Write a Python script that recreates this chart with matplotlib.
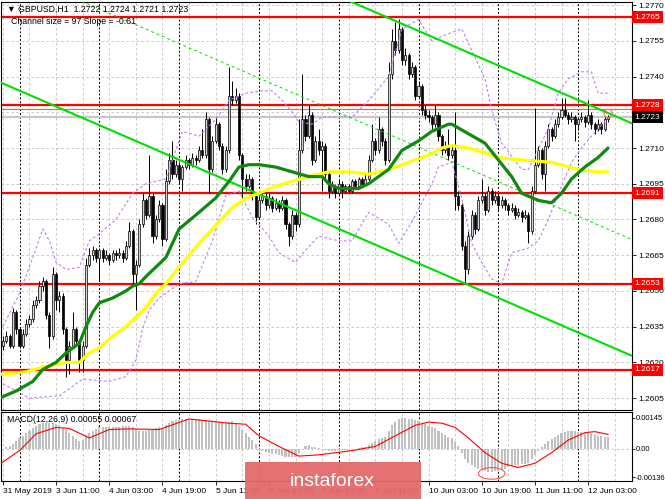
import matplotlib
matplotlib.use("Agg")
import matplotlib.pyplot as plt
import matplotlib.transforms as mtransforms
from matplotlib.patches import Rectangle, Ellipse
import numpy as np

plt.rcParams["font.family"] = ["Liberation Sans", "DejaVu Sans"]

# ---------------------------------------------------------------------------
# Data (prices in pips above 1.2600, one candle per H1 bar,
# bar 0 = 31 May 19:00, bar 182 = 12 Jun 09:00)
# ---------------------------------------------------------------------------
BASE = 1.2600
PIP = 0.0001

open_pips = [
    27, 29, 31, 27, 41, 34, 27, 32, 36, 38, 44, 46, 52, 54, 40, 31, 57, 46, 48, 34,
    21, 27, 34, 29, 21, 27, 61, 65, 67, 64, 67, 64, 65, 63, 66, 65, 66, 64, 69, 75,
    57, 61, 78, 88, 82, 90, 73, 80, 86, 72, 96, 105, 99, 103, 97, 102, 105, 103, 106, 105,
    109, 107, 122, 101, 113, 120, 111, 101, 109, 132, 130, 132, 107, 97, 94, 97, 90, 81, 88, 90,
    86, 89, 85, 87, 85, 88, 78, 73, 82, 78, 109, 122, 115, 124, 105, 113, 109, 111, 99, 92,
    94, 91, 95, 92, 94, 92, 96, 94, 97, 95, 97, 105, 113, 109, 118, 113, 105, 141, 155, 151,
    160, 147, 149, 141, 144, 132, 136, 126, 124, 123, 120, 124, 115, 109, 111, 107, 109, 90, 86, 69,
    59, 73, 82, 76, 88, 90, 84, 92, 88, 90, 86, 88, 86, 84, 85, 82, 83, 81, 82, 75,
    92, 103, 109, 99, 111, 118, 115, 120, 123, 126, 124, 122, 123, 120, 122, 123, 121, 124, 120, 118,
    120, 118, 122,
]
high_pips = [
    31, 33, 32, 43, 42, 35, 34, 38, 40, 46, 48, 54, 56, 55, 41, 60, 58, 50, 49, 35,
    29, 41, 35, 30, 29, 64, 68, 69, 68, 68, 68, 67, 66, 67, 67, 68, 67, 71, 79, 76,
    63, 80, 91, 89, 107, 91, 82, 88, 87, 101, 108, 113, 105, 104, 103, 107, 106, 108, 107, 111,
    118, 125, 123, 115, 123, 121, 112, 111, 144, 138, 135, 133, 108, 99, 99, 98, 91, 90, 92, 91,
    91, 90, 89, 88, 90, 89, 79, 84, 83, 122, 141, 124, 128, 125, 115, 118, 113, 112, 100, 96,
    95, 97, 96, 95, 95, 97, 97, 98, 98, 99, 107, 120, 114, 123, 119, 114, 146, 160, 163, 164,
    161, 152, 150, 146, 145, 138, 137, 128, 126, 124, 128, 125, 116, 113, 118, 111, 125, 92, 87, 71,
    75, 84, 83, 90, 97, 91, 94, 93, 92, 91, 90, 89, 87, 87, 86, 85, 84, 84, 83, 94,
    127, 111, 110, 113, 120, 119, 122, 125, 131, 131, 125, 125, 124, 123, 125, 124, 130, 125, 121, 122,
    121, 123, 124,
]
low_pips = [
    25, 28, 26, 26, 32, 26, 26, 31, 35, 37, 43, 45, 50, 38, 26, 30, 42, 41, 32, 14,
    15, 26, 27, 16, 16, 26, 60, 63, 62, 54, 62, 63, 61, 62, 63, 64, 62, 63, 68, 52,
    42, 60, 77, 80, 81, 70, 72, 79, 69, 71, 95, 97, 98, 95, 92, 101, 101, 102, 103, 104,
    106, 106, 91, 100, 112, 109, 99, 100, 108, 128, 129, 105, 89, 92, 93, 88, 78, 80, 87, 84,
    85, 83, 84, 83, 84, 76, 69, 72, 75, 77, 108, 113, 114, 103, 104, 107, 92, 97, 89, 91,
    89, 90, 89, 91, 91, 91, 93, 93, 94, 94, 96, 104, 107, 108, 111, 103, 104, 139, 149, 150,
    145, 145, 139, 140, 130, 131, 124, 122, 121, 118, 119, 113, 107, 108, 105, 106, 84, 84, 67, 53,
    57, 72, 74, 75, 87, 82, 83, 86, 87, 84, 85, 84, 82, 83, 80, 81, 79, 80, 70, 74,
    91, 102, 97, 92, 110, 113, 114, 119, 122, 123, 120, 121, 113, 118, 121, 119, 120, 118, 116, 117,
    116, 117, 121,
]
close_pips = [
    29, 31, 27, 41, 34, 27, 32, 36, 38, 44, 46, 52, 54, 40, 31, 57, 46, 48, 34, 21,
    27, 34, 29, 21, 27, 61, 65, 67, 64, 67, 64, 65, 63, 66, 65, 66, 64, 69, 75, 57,
    61, 78, 88, 82, 90, 73, 80, 86, 72, 96, 105, 99, 103, 97, 102, 105, 103, 106, 105, 109,
    107, 122, 101, 113, 120, 111, 101, 109, 132, 130, 132, 107, 97, 94, 97, 90, 81, 88, 90, 86,
    89, 85, 87, 85, 88, 78, 73, 82, 78, 109, 122, 115, 124, 105, 113, 109, 111, 99, 92, 94,
    91, 95, 92, 94, 92, 96, 94, 97, 95, 97, 105, 113, 109, 118, 113, 105, 141, 155, 151, 160,
    147, 149, 141, 144, 132, 136, 126, 124, 123, 120, 124, 115, 109, 111, 107, 109, 90, 86, 69, 59,
    73, 82, 76, 88, 90, 84, 92, 88, 90, 86, 88, 86, 84, 85, 82, 83, 81, 82, 75, 92,
    103, 109, 99, 111, 118, 115, 120, 123, 126, 124, 122, 123, 120, 122, 123, 121, 124, 120, 118, 120,
    118, 122, 123,
]

# moving averages and bands: (bar, pips)
ma_fast_pts = [
    (-1, 5), (4, 8), (9, 12), (12, 17), (16, 20), (19, 24), (23, 28), (25, 35), (27, 41),
    (29, 45), (33, 47), (37, 50), (39, 52), (41, 53), (43, 56), (46, 60), (49, 64), (53, 76),
    (59, 83), (64, 89), (68, 96), (71, 102), (74, 103), (77, 103), (82, 102), (87, 100),
    (92, 98), (96, 98), (98, 95), (101, 93), (107, 93), (110, 95), (116, 101), (120, 109),
    (125, 113), (129, 117), (134, 120), (135, 120), (140, 116), (145, 112), (149, 105),
    (153, 98), (156, 91), (161, 88), (165, 87), (168, 91), (171, 97), (175, 102),
    (179, 106), (182, 110),
]
ma_slow_pts = [
    (-1, 15), (7, 16), (12, 18), (19, 20), (23, 20), (26, 24), (29, 26), (33, 31), (37, 35),
    (40, 39), (43, 43), (46, 49), (49, 53), (53, 60), (59, 70), (65, 79), (69, 85), (73, 89),
    (77, 91), (82, 94), (87, 96), (92, 98), (98, 100), (104, 100), (110, 99), (116, 101),
    (122, 104), (128, 107), (132, 110), (135, 111), (140, 110), (145, 108), (149, 106),
    (156, 105), (165, 104), (173, 101), (179, 100), (182, 100),
]
band_upper_pts = [
    (0, 35), (5, 49), (9, 64), (12, 76), (14, 71), (16, 62), (19, 59), (23, 60), (26, 71),
    (29, 74), (34, 80), (39, 91), (43, 95), (49, 97), (54, 117), (59, 115), (64, 122),
    (68, 130), (73, 133), (78, 134), (81, 134), (84, 130), (87, 125), (89, 121), (93, 120),
    (96, 123), (105, 123), (110, 130), (116, 140), (120, 160), (125, 164), (129, 155),
    (134, 158), (138, 160), (141, 151), (145, 139), (147, 126), (150, 112), (156, 101),
    (158, 101), (164, 118), (167, 133), (170, 139), (174, 142), (177, 142), (179, 133),
    (182, 133),
]
band_lower_pts = [
    (0, 11), (8, 5), (17, 6), (24, 13), (32, 12), (37, 14), (40, 21), (42, 34), (44, 42),
    (47, 47), (53, 53), (58, 54), (63, 71), (67, 90), (71, 92), (75, 81), (80, 73), (83, 66),
    (88, 62), (91, 67), (95, 73), (101, 71), (105, 71), (110, 83), (116, 78), (119, 70),
    (123, 79), (129, 95), (131, 102), (135, 104), (138, 89), (141, 70), (144, 62), (147, 55),
    (150, 53), (153, 66), (158, 68), (161, 71), (164, 80), (168, 94), (171, 104), (174, 110),
    (177, 115), (181, 121),
]

# regression channel (bar, pips) end points
channel_lower = [(0, 137.1), (182, 27.1)]
channel_upper = [(0, 234.7), (182, 124.7)]

levels = [1.2765, 1.2728, 1.2691, 1.2653, 1.2617]
orange_level = 1.27265
bid = 1.2723

# MACD main (x 1e-5 per bar) and signal samples
macd_main = [
    -5, 5, 12, 22, 35, 48, 60, 72, 85, 98, 108, 115, 120, 122, 123, 122, 118, 110, 98, 88,
    72, 58, 45, 36, 40, 62, 75, 85, 92, 100, 102, 103, 104, 104, 103, 104, 105, 106, 106, 100,
    92, 84, 82, 84, 90, 92, 95, 100, 98, 110, 122, 130, 134, 136, 138, 139, 140, 140, 139, 138,
    135, 135, 130, 128, 127, 125, 122, 120, 125, 128, 120, 105, 90, 72, 55, 40, 20, -5, -12, -18,
    -22, -25, -28, -32, -35, -38, -42, -40, -38, -20, 0, 10, 15, 5, 5, 3, 0, -5, -10, -12,
    -10, -8, -6, -5, -3, -2, 0, 2, 5, 8, 15, 25, 35, 45, 50, 55, 85, 110, 125, 140,
    145, 145, 142, 140, 135, 130, 122, 115, 108, 100, 95, 85, 75, 65, 55, 50, 30, 10, -20, -50,
    -70, -80, -90, -95, -100, -105, -110, -110, -108, -105, -100, -95, -90, -85, -80, -78, -75, -72, -70, -50,
    -30, -10, 5, 20, 35, 45, 55, 65, 75, 80, 85, 85, 82, 80, 78, 75, 72, 68, 62, 60,
    58, 56, 55,
]
macd_signal_pts = [
    (-1, -75), (5, -10), (10, 70), (16, 100), (20, 95), (26, 50), (32, 90), (38, 93),
    (47, 90), (56, 140), (68, 120), (73, 115), (77, 60), (83, 10), (89, -36), (95, -30),
    (105, -10), (112, 10), (118, 60), (124, 110), (128, 125), (132, 120), (136, 100),
    (140, 50), (145, -20), (150, -70), (155, -90), (160, -70), (165, -20), (170, 40),
    (175, 75), (178, 80), (182, 67),
]

xtick_bars = [0, 16, 32, 48, 64, 80, 96, 112, 128, 144, 160, 176]
xtick_labels = ["31 May 2019", "3 Jun 11:00", "4 Jun 03:00", "4 Jun 19:00", "5 Jun 11:00",
                "6 Jun 03:00", "6 Jun 19:00", "7 Jun 11:00", "10 Jun 03:00",
                "10 Jun 19:00", "11 Jun 11:00", "12 Jun 03:00"]
day_start_bars = [5, 29, 53, 77, 101, 125, 149, 173]
price_ticks = [1.2605, 1.2620, 1.2635, 1.2650, 1.2665, 1.2680, 1.2695, 1.2710,
               1.2725, 1.2740, 1.2755, 1.2770]


def _pts(pts):
    a = np.array(pts, dtype=float)
    return a[:, 0], BASE + a[:, 1] * PIP


# ---------------------------------------------------------------------------
# Figure
# ---------------------------------------------------------------------------
W, H = 665, 499
fig = plt.figure(figsize=(W / 100, H / 100), dpi=100)
fig.patch.set_facecolor("white")
ax = fig.add_axes([1 / W, 1 - 410 / H, 631 / W, 408 / H])
mx = fig.add_axes([1 / W, 1 - 481 / H, 631 / W, 69 / H], sharex=ax)

XMIN, XMAX = -0.57, 189.2
ax.set_xlim(XMIN, XMAX)
ax.set_ylim(1.2600, 1.27713)

FS = 6.0
grid_color = "#c0c0c0"

# grid + separators
for a in (ax, mx):
    for b in range(0, 190, 8):
        a.axvline(b, color=grid_color, lw=0.6, ls=(0, (3, 3)), zorder=0)
    for b in day_start_bars:
        a.axvline(b, color="black", lw=0.7, ls=(0, (2, 2)), zorder=0.5)
for p in price_ticks:
    ax.axhline(p, color=grid_color, lw=0.6, ls=(0, (3, 3)), zorder=0)

# candles
o = BASE + np.array(open_pips) * PIP
hi = BASE + np.array(high_pips) * PIP
lo = BASE + np.array(low_pips) * PIP
c = BASE + np.array(close_pips) * PIP
xb = np.arange(len(c))
up = c >= o
ax.vlines(xb, lo, hi, color="black", lw=0.7, zorder=3)
ax.bar(xb[up], np.maximum((c - o)[up], 0.00002), bottom=o[up], width=0.62,
       color="#d4d4d4", edgecolor="black", lw=0.5, zorder=4)
ax.bar(xb[~up], (o - c)[~up], bottom=c[~up], width=0.62,
       color="black", edgecolor="black", lw=0.5, zorder=4)

# horizontal levels
ax.axhline(bid, color="#c8c8c8", lw=1.6, zorder=2)
ax.axhline(orange_level, color="#ff6a00", lw=0.8, zorder=2)
for lv in levels:
    ax.axhline(lv, color="#ff0000", lw=1.6, zorder=2)

# bands
for pts in (band_upper_pts, band_lower_pts):
    bx, by = _pts(pts)
    ax.plot(bx, by, color="#c080f0", lw=0.8, ls=(0, (2.5, 2)), zorder=5)

# channel
cl = np.array(channel_lower)
cu = np.array(channel_upper)
ext = np.array([XMIN - 5, XMAX + 5])


def _line(pts, xs):
    slope = (pts[1, 1] - pts[0, 1]) / (pts[1, 0] - pts[0, 0])
    return BASE + (pts[0, 1] + slope * (xs - pts[0, 0])) * PIP


ax.plot(ext, _line(cl, ext), color="#00e000", lw=1.5, zorder=6)
ax.plot(ext, _line(cu, ext), color="#00e000", lw=1.5, zorder=6)
ax.plot(ext, (_line(cl, ext) + _line(cu, ext)) / 2, color="#00e000", lw=0.7,
        ls=(0, (3, 3)), zorder=6)

# moving averages
fx, fy = _pts(ma_slow_pts)
ax.plot(fx, fy, color="#ffff00", lw=2.3, zorder=7, solid_capstyle="round")
fx, fy = _pts(ma_fast_pts)
ax.plot(fx, fy, color="#0f8a0f", lw=2.3, zorder=8, solid_capstyle="round")

# little highlight circle on the last bar
ax.add_patch(Ellipse((182, 1.27245), 2.4, 0.00035, fill=False, ec="#ff6060", lw=0.7,
                     zorder=9))

# right scale
ax.yaxis.tick_right()
ax.set_yticks(price_ticks)
ax.set_yticklabels([f"{p:.4f}" for p in price_ticks], fontsize=FS)
ax.tick_params(axis="y", length=3, width=0.6, pad=1.5, colors="black")
ax.tick_params(axis="x", bottom=False, labelbottom=False)
for s in ax.spines.values():
    s.set_color("black")
    s.set_linewidth(0.8)

tr = mtransforms.blended_transform_factory(ax.transAxes, ax.transData)
box = dict(boxstyle="square,pad=0.3", ec="none")
ax.text(1.004, orange_level - 0.00004, "1.2726", transform=tr, fontsize=FS,
        color="white", va="center", ha="left", zorder=20, clip_on=False,
        bbox=dict(box, fc="#ff6a00"))
for lv in levels:
    ax.text(1.004, lv, f"{lv:.4f}", transform=tr, fontsize=FS, color="white",
            va="center", ha="left", zorder=21, clip_on=False,
            bbox=dict(box, fc="#ff0000"))
ax.text(1.004, bid, f"{bid:.4f}", transform=tr, fontsize=FS, color="white",
        va="center", ha="left", zorder=22, clip_on=False,
        bbox=dict(box, fc="black"))

ax.text(0.009, 0.993, "\u25bc GBPUSD,H1  1.2722 1.2724 1.2721 1.2723",
        transform=ax.transAxes, fontsize=FS + 0.3, va="top", ha="left", zorder=30)
ax.text(0.016, 0.963, "Channel size = 97 Slope = -0.61",
        transform=ax.transAxes, fontsize=FS + 0.3, va="top", ha="left", zorder=30)

# ---------------------------------------------------------------------------
# MACD panel
# ---------------------------------------------------------------------------
mm = np.array(macd_main) * 1e-5
mx.bar(np.arange(len(mm)), mm, width=0.62, color="#c0c0c0", zorder=2)
sx = np.array([p[0] for p in macd_signal_pts], dtype=float)
sy = np.array([p[1] for p in macd_signal_pts], dtype=float) * 1e-5
mx.plot(sx, sy, color="#ff0000", lw=0.8, zorder=3)
mx.axhline(0, color=grid_color, lw=0.6, ls=(0, (3, 3)), zorder=0)
mx.set_ylim(-0.00154, 0.00173)
mx.yaxis.tick_right()
mx.set_yticks([-0.00136, 0.0, 0.00145])
mx.set_yticklabels(["-0.00136", "0.00", "0.00145"], fontsize=FS - 0.6)
mx.tick_params(axis="y", length=2, width=0.6, pad=0.5)
mx.set_xticks(xtick_bars)
mx.set_xticklabels(xtick_labels, fontsize=FS, ha="left")
mx.tick_params(axis="x", length=3, width=0.6, pad=2)
for s in mx.spines.values():
    s.set_color("black")
    s.set_linewidth(0.8)
mx.add_patch(Ellipse((147, -0.00118), 8, 0.00055, fill=False, ec="#ff4040", lw=0.7,
                     zorder=5))
mx.text(0.01, 0.96, "MACD(12,26,9) 0.00055 0.00067", transform=mx.transAxes,
        fontsize=FS + 0.3, va="top", ha="left", zorder=6)

# instaforex badge
fig.patches.append(Rectangle((245 / W, 0), 176 / W, 37 / H, transform=fig.transFigure,
                             fc="#e46a6a", ec="none", alpha=0.95, zorder=50))
fig.text(332 / W, 17 / H, "instaforex", color="white", fontsize=14, ha="center",
         va="center", zorder=51)

fig.savefig("out.png", dpi=100)
